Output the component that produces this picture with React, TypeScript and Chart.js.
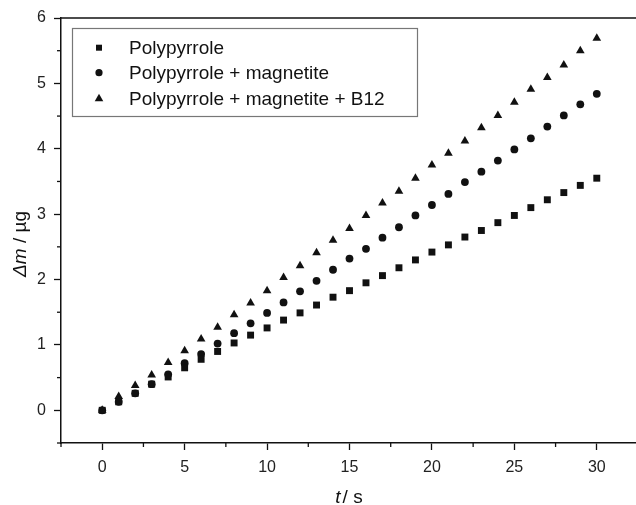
import React, { useEffect, useRef } from "react";
import { Chart, registerables } from "chart.js";

Chart.register(...registerables);

const timeS = [0, 1, 2, 3, 4, 5, 6, 7, 8, 9, 10, 11, 12, 13, 14, 15, 16, 17, 18, 19, 20, 21, 22, 23, 24, 25, 26, 27, 28, 29, 30];
const polypyrrole = [0, 0.13, 0.26, 0.40, 0.51, 0.65, 0.78, 0.90, 1.03, 1.15, 1.26, 1.38, 1.49, 1.61, 1.73, 1.83, 1.95, 2.06, 2.18, 2.30, 2.42, 2.53, 2.65, 2.75, 2.87, 2.98, 3.10, 3.22, 3.33, 3.44, 3.55];
const ppyMagnetite = [0, 0.13, 0.26, 0.40, 0.55, 0.72, 0.86, 1.02, 1.18, 1.33, 1.49, 1.65, 1.82, 1.98, 2.15, 2.32, 2.47, 2.64, 2.80, 2.98, 3.14, 3.31, 3.49, 3.65, 3.82, 3.99, 4.16, 4.34, 4.51, 4.68, 4.84];
const ppyMagnetiteB12 = [0, 0.21, 0.38, 0.54, 0.73, 0.91, 1.09, 1.27, 1.46, 1.64, 1.83, 2.03, 2.21, 2.41, 2.60, 2.78, 2.98, 3.17, 3.35, 3.55, 3.75, 3.93, 4.12, 4.32, 4.51, 4.71, 4.91, 5.09, 5.28, 5.50, 5.69];

const seriesLabels = ["Polypyrrole", "Polypyrrole + magnetite", "Polypyrrole + magnetite + B12"];
const seriesStyles = ["rect", "circle", "triangle"];

const X_MIN = -2.5;
const X_MAX = 32.5;
const Y_MIN = -0.5;
const Y_MAX = 6;

const FONT = "'Liberation Sans', Arial, Helvetica, sans-serif";

function near(a: number, b: number) {
  return Math.abs(a - b) < 1e-6;
}
function isMult(v: number, step: number) {
  const r = v / step;
  return near(r, Math.round(r));
}

const decorPlugin = {
  id: "decor",
  afterDraw(chart: any) {
    const { ctx, chartArea, scales } = chart;
    const x = scales.x;
    const y = scales.y;
    ctx.save();
    ctx.strokeStyle = "#111";
    ctx.lineWidth = 1.5;
    // top frame line
    ctx.beginPath();
    ctx.moveTo(chartArea.left, chartArea.top);
    ctx.lineTo(chartArea.right + 2, chartArea.top);
    ctx.stroke();
    // minor ticks
    ctx.lineWidth = 1.3;
    x.ticks.forEach((t: any) => {
      if (isMult(t.value, 2.5) && !isMult(t.value, 5)) {
        const px = x.getPixelForValue(t.value);
        ctx.beginPath();
        ctx.moveTo(px, chartArea.bottom);
        ctx.lineTo(px, chartArea.bottom + 4);
        ctx.stroke();
      }
    });
    y.ticks.forEach((t: any) => {
      if (isMult(t.value, 0.5) && !isMult(t.value, 1)) {
        const py = y.getPixelForValue(t.value);
        ctx.beginPath();
        ctx.moveTo(chartArea.left, py);
        ctx.lineTo(chartArea.left - 4, py);
        ctx.stroke();
      }
    });

    // legend box
    const bx = 72, by = 28, bw = 345, bh = 88;
    ctx.strokeStyle = "#777";
    ctx.lineWidth = 1.2;
    ctx.strokeRect(bx + 0.5, by + 0.5, bw, bh);
    const rows = [47.7, 72.7, 98.3];
    ctx.fillStyle = "#111";
    ctx.font = `19px ${FONT}`;
    ctx.textBaseline = "middle";
    ctx.textAlign = "left";
    seriesLabels.forEach((lab, i) => {
      const cy = rows[i];
      const cx = 99;
      const st = seriesStyles[i];
      ctx.beginPath();
      if (st === "rect") {
        ctx.rect(cx - 3, cy - 3, 6, 6);
      } else if (st === "circle") {
        ctx.arc(cx, cy, 3.6, 0, Math.PI * 2);
      } else {
        ctx.moveTo(cx, cy - 4.5);
        ctx.lineTo(cx + 4.3, cy + 3);
        ctx.lineTo(cx - 4.3, cy + 3);
        ctx.closePath();
      }
      ctx.fill();
      ctx.fillText(lab, 129, cy + 1);
    });

    // x title: "t / s"
    ctx.textBaseline = "alphabetic";
    const xt1 = "t";
    const xt2 = "/ s";
    ctx.font = `italic 19px ${FONT}`;
    const w1 = ctx.measureText(xt1).width + 2;
    ctx.font = `19px ${FONT}`;
    const w2 = ctx.measureText(xt2).width;
    const xc = 349;
    let sx = xc - (w1 + w2) / 2;
    ctx.font = `italic 19px ${FONT}`;
    ctx.fillText(xt1, sx, 503);
    ctx.font = `19px ${FONT}`;
    ctx.fillText(xt2, sx + w1, 503);

    // y title: "Δm / µg"
    ctx.translate(26, 244);
    ctx.rotate(-Math.PI / 2);
    const yt1 = "\u0394m";
    const yt2 = " / \u00b5g";
    ctx.font = `italic 19px ${FONT}`;
    const v1 = ctx.measureText(yt1).width;
    ctx.font = `19px ${FONT}`;
    const v2 = ctx.measureText(yt2).width;
    let sy = -(v1 + v2) / 2;
    ctx.font = `italic 19px ${FONT}`;
    ctx.fillText(yt1, sy, 0);
    ctx.font = `19px ${FONT}`;
    ctx.fillText(yt2, sy + v1, 0);
    ctx.restore();
  },
};

export default function App() {
  const canvasRef = useRef<HTMLCanvasElement | null>(null);

  useEffect(() => {
    const mk = (vals: number[]) => timeS.map((t, i) => ({ x: t, y: vals[i] }));
    const chart = new Chart(canvasRef.current as HTMLCanvasElement, {
      type: "scatter",
      data: {
        datasets: [
          { label: seriesLabels[0], data: mk(polypyrrole), pointStyle: "rect", pointRadius: 4.9, backgroundColor: "#111", borderColor: "#111", borderWidth: 0 },
          { label: seriesLabels[1], data: mk(ppyMagnetite), pointStyle: "circle", pointRadius: 3.9, backgroundColor: "#111", borderColor: "#111", borderWidth: 0 },
          { label: seriesLabels[2], data: mk(ppyMagnetiteB12), pointStyle: "triangle", pointRadius: 5, backgroundColor: "#111", borderColor: "#111", borderWidth: 0 },
        ],
      },
      options: {
        animation: false,
        responsive: false,
        maintainAspectRatio: false,
        layout: { padding: { top: 18, right: 0, bottom: 0, left: 0 } },
        plugins: { legend: { display: false }, tooltip: { enabled: false } },
        scales: {
          x: {
            type: "linear",
            min: X_MIN,
            max: X_MAX,
            afterFit: (s: any) => { s.height = 62; s.paddingRight = 0; s.paddingLeft = 0; },
            border: { display: true, color: "#111", width: 1.5 },
            grid: {
              display: true,
              drawOnChartArea: false,
              drawTicks: true,
              tickLength: 7,
              tickWidth: 1.3,
              tickColor: (c: any) => (c.tick && isMult(c.tick.value, 5) ? "#111" : "rgba(0,0,0,0)"),
            },
            ticks: {
              stepSize: 2.5,
              autoSkip: false,
              maxRotation: 0,
              padding: 8,
              color: "#222",
              font: { family: FONT, size: 16 },
              callback: (v: any) => (isMult(Number(v), 5) ? String(Math.round(Number(v))) : ""),
            },
          },
          y: {
            type: "linear",
            min: Y_MIN,
            max: Y_MAX,
            afterFit: (s: any) => { s.width = 61; },
            border: { display: true, color: "#111", width: 1.5 },
            grid: {
              display: true,
              drawOnChartArea: false,
              drawTicks: true,
              tickLength: 7,
              tickWidth: 1.3,
              tickColor: (c: any) => (c.tick && isMult(c.tick.value, 1) ? "#111" : "rgba(0,0,0,0)"),
            },
            ticks: {
              stepSize: 0.5,
              autoSkip: false,
              padding: 8,
              color: "#222",
              font: { family: FONT, size: 16 },
              callback: (v: any) => (isMult(Number(v), 1) ? String(Math.round(Number(v))) : ""),
            },
          },
        },
      },
      plugins: [decorPlugin],
    });
    return () => chart.destroy();
  }, []);

  return (
    <div style={{ position: "fixed", left: 0, top: 0, width: 636, height: 505, overflow: "hidden", background: "#fff" }}>
      <canvas ref={canvasRef} width={643} height={505} style={{ display: "block" }} />
    </div>
  );
}
